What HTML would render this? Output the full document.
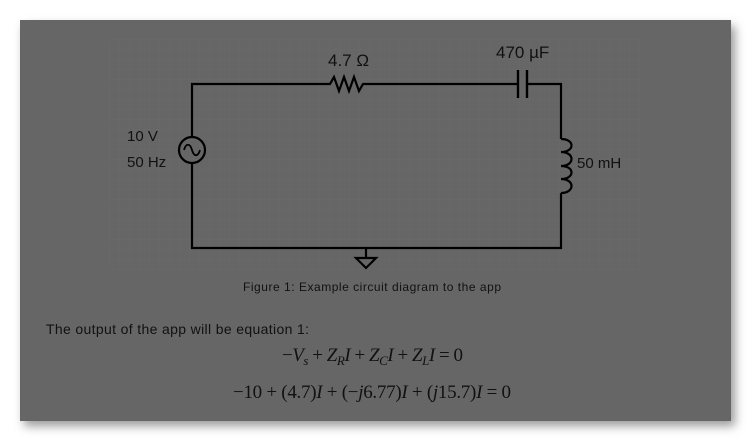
<!DOCTYPE html>
<html><head><meta charset="utf-8"><style>
html,body{margin:0;padding:0;background:#fff;width:751px;height:441px;overflow:hidden}
text{fill:#111}
</style></head><body>
<svg width="751" height="441" viewBox="0 0 751 441" xmlns="http://www.w3.org/2000/svg">
<defs>
<filter id="sh" x="-5%" y="-5%" width="112%" height="115%"><feGaussianBlur stdDeviation="5"/></filter>
<pattern id="g" width="10" height="10" patternUnits="userSpaceOnUse"><path d="M10 0V10H0" fill="none" stroke="#6a6a6a" stroke-width="1"/></pattern>
</defs>
<rect x="24" y="26" width="711" height="400" fill="#999" filter="url(#sh)"/>
<rect x="20" y="20" width="711" height="401" fill="#666"/>
<rect x="108" y="38" width="532" height="232" fill="url(#g)"/>
<g fill="none" stroke="#000" stroke-width="2.2">
<path d="M192 137V84H330l4 -7 5 14 5 -14 5 14 5 -14 5 14 4 -7H518M527 84H561V139"/>
<path d="M518 70V98M527 70V98" stroke-width="2.4"/>
<path d="M561 139c14 0 14 13 0 13c14 0 14 14 0 14c14 0 14 13 0 13c14 0 14 14 0 14"/>
<path d="M561 193V248H192V163"/>
<circle cx="192" cy="150" r="13"/>
<path d="M184 150c2-7 6-7 8 0s6 7 8 0" stroke-width="1.8"/>
<path d="M366 248V258M356 258H376L366 268Z"/>
</g>
<g style="font-family:'Liberation Sans',sans-serif">
<text x="328" y="66" font-size="17" style="fill:#111">4.7 Ω</text>
<text x="496" y="58" font-size="17" style="fill:#111">470 µF</text>
<text x="127" y="141" font-size="15" style="fill:#111">10 V</text>
<text x="127" y="167" font-size="15" style="fill:#111">50 Hz</text>
<text x="577" y="168" font-size="15" style="fill:#111">50 mH</text>
<text x="243" y="291" font-size="12" textLength="258" style="fill:#111">Figure 1: Example circuit diagram to the app</text>
<text x="46" y="334" font-size="14" textLength="263" style="fill:#111">The output of the app will be equation 1:</text>
</g>
<g style="font-family:'Liberation Serif',serif;fill:#111" font-size="19">
<text x="282" y="361" textLength="181" style="fill:#111">−<tspan font-style="italic">V</tspan><tspan font-style="italic" font-size="13" dy="4">s</tspan><tspan dy="-4"> + </tspan><tspan font-style="italic">Z</tspan><tspan font-style="italic" font-size="13" dy="4">R</tspan><tspan font-style="italic" dy="-4">I</tspan> + <tspan font-style="italic">Z</tspan><tspan font-style="italic" font-size="13" dy="4">C</tspan><tspan font-style="italic" dy="-4">I</tspan> + <tspan font-style="italic">Z</tspan><tspan font-style="italic" font-size="13" dy="4">L</tspan><tspan font-style="italic" dy="-4">I</tspan> = 0</text>
<text x="233" y="398" textLength="278" style="fill:#111">−10 + (4.7)<tspan font-style="italic">I</tspan> + (−<tspan font-style="italic">j</tspan>6.77)<tspan font-style="italic">I</tspan> + (<tspan font-style="italic">j</tspan>15.7)<tspan font-style="italic">I</tspan> = 0</text>
</g>
</svg>
</body></html>
